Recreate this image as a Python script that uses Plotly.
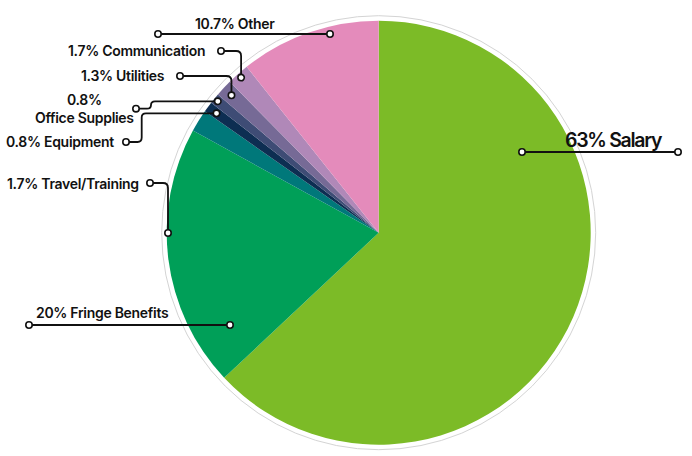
import math
import plotly.graph_objects as go

# ---- data ----
labels = ["Salary", "Fringe Benefits", "Travel/Training", "Equipment",
          "Office Supplies", "Utilities", "Communication", "Other"]
values = [63, 20, 1.7, 0.8, 0.8, 1.3, 1.7, 10.7]
colors = ["#7CBB27", "#009F58", "#00787A", "#0D2E52",
          "#3E4C75", "#766A96", "#B088B8", "#E48BBB"]

# ---- geometry (layout) ----
W, H = 692, 456
CX, CY, R = 378.7, 232.7, 212
INK = "#111111"
FONT = "Inter"


def P(x, y):
    return x / W, 1 - y / H


total = sum(values)
cum = [0]
for v in values:
    cum.append(cum[-1] + v)


def anchor(i, rf):
    th = math.radians(360 * (cum[i] + cum[i + 1]) / 2 / total)
    return CX + rf * R * math.sin(th), CY - rf * R * math.cos(th)


def txt(i):
    return f"{values[i]:g}% {labels[i]}"


fig = go.Figure()
fig.add_trace(go.Pie(
    labels=labels, values=values, sort=False, direction="clockwise",
    rotation=0, marker=dict(colors=colors, line=dict(width=0)),
    textinfo="none", hoverinfo="label+percent", showlegend=False,
    domain=dict(x=[(CX - R) / W, (CX + R) / W],
                y=[1 - (CY + R) / H, 1 - (CY - R) / H]),
))

shapes = []
annotations = []

# outer thin ring
rr = R + 5
x0, y0 = P(CX - rr, CY + rr)
x1, y1 = P(CX + rr, CY - rr)
shapes.append(dict(type="circle", xref="paper", yref="paper", x0=x0, y0=y0,
                   x1=x1, y1=y1, line=dict(color="#D4D4D4", width=1),
                   layer="below"))


def path_shape(cmds):
    s = ""
    for c in cmds:
        s += c[0]
        for pt in c[1:]:
            px, py = P(*pt)
            s += f" {px:.5f},{py:.5f} "
    shapes.append(dict(type="path", xref="paper", yref="paper", path=s,
                       line=dict(color=INK, width=1.8)))


def dot(x, y, r=3.2):
    a0, b0 = P(x - r, y + r)
    a1, b1 = P(x + r, y - r)
    shapes.append(dict(type="circle", xref="paper", yref="paper",
                       x0=a0, y0=b0, x1=a1, y1=b1, fillcolor="white",
                       line=dict(color=INK, width=1.6)))


def label(text, x, y, xanchor, size=14, ls=-0.3):
    px, py = P(x, y)
    lines = text.split("<br>")
    text = "<br>".join(f'<span style="letter-spacing:{ls}px">{t}</span>'
                       for t in lines)
    annotations.append(dict(text=text, x=px, y=py, xref="paper", yref="paper",
                            xanchor=xanchor, yanchor="middle", showarrow=False,
                            align="center",
                            font=dict(family=FONT, size=size, color=INK,
                                      weight=600)))


# Other (index 7)
path_shape([("M", (158, 34)), ("L", (330, 34))])
dot(158, 34); dot(330, 34)
label(txt(7), 234.5, 23.5, "center")

# Communication (index 6)
ax, ay = anchor(6, 0.978)
path_shape([("M", (221, 51)), ("L", (ax - 5, 51)), ("Q", (ax, 51), (ax, 56)),
            ("L", (ax, ay))])
dot(221, 51); dot(ax, ay)
label(txt(6), 207, 50.5, "right")

# Utilities (index 5)
ax, ay = anchor(5, 0.95)
path_shape([("M", (180, 76)), ("L", (ax - 5, 76)), ("Q", (ax, 76), (ax, 81)),
            ("L", (ax, ay))])
dot(180, 76); dot(ax, ay)
label(txt(5), 167, 75, "right")

# Office Supplies (index 4)
ax, ay = anchor(4, 0.98)
path_shape([("M", (136, 108.7)), ("L", (147, 108.7)),
            ("Q", (151, 108.7), (151, 105)), ("Q", (151, ay), (155, ay)),
            ("L", (ax, ay))])
dot(136, 108.7); dot(ax, ay)
label(f"{values[4]:g}%<br>{labels[4]}", 84.3, 108.5, "center")

# Equipment (index 3)
ax, ay = anchor(3, 0.95)
path_shape([("M", (126, 142)), ("L", (137.5, 142)),
            ("Q", (141.7, 142), (141.7, 137.5)), ("L", (141.7, ay + 4)),
            ("Q", (141.7, ay), (146, ay)), ("L", (ax, ay))])
dot(126, 142); dot(ax, ay)
label(txt(3), 116, 141.7, "right")

# Travel/Training (index 2)
path_shape([("M", (150, 183)), ("L", (163, 183)),
            ("Q", (168, 183), (168, 188)), ("L", (168, 233))])
dot(150, 183); dot(168, 233)
label(txt(2), 141, 183.3, "right")

# Fringe Benefits (index 1)
path_shape([("M", (29, 325)), ("L", (230, 325))])
dot(29, 325); dot(230, 325)
label(txt(1), 102.5, 312.3, "center")

# Salary (index 0)
path_shape([("M", (522, 152)), ("L", (678, 152))])
dot(522, 152); dot(678, 152)
label(txt(0), 614, 139.5, "center", size=19.5, ls=-1.3)

fig.update_layout(
    width=W, height=H, margin=dict(l=0, r=0, t=0, b=0),
    paper_bgcolor="white", plot_bgcolor="white",
    shapes=shapes, annotations=annotations, showlegend=False,
)

fig.write_html("out.html", config={"displayModeBar": False},
               post_script="document.body.style.margin='0';"
                           "document.documentElement.style.overflow='hidden';")
